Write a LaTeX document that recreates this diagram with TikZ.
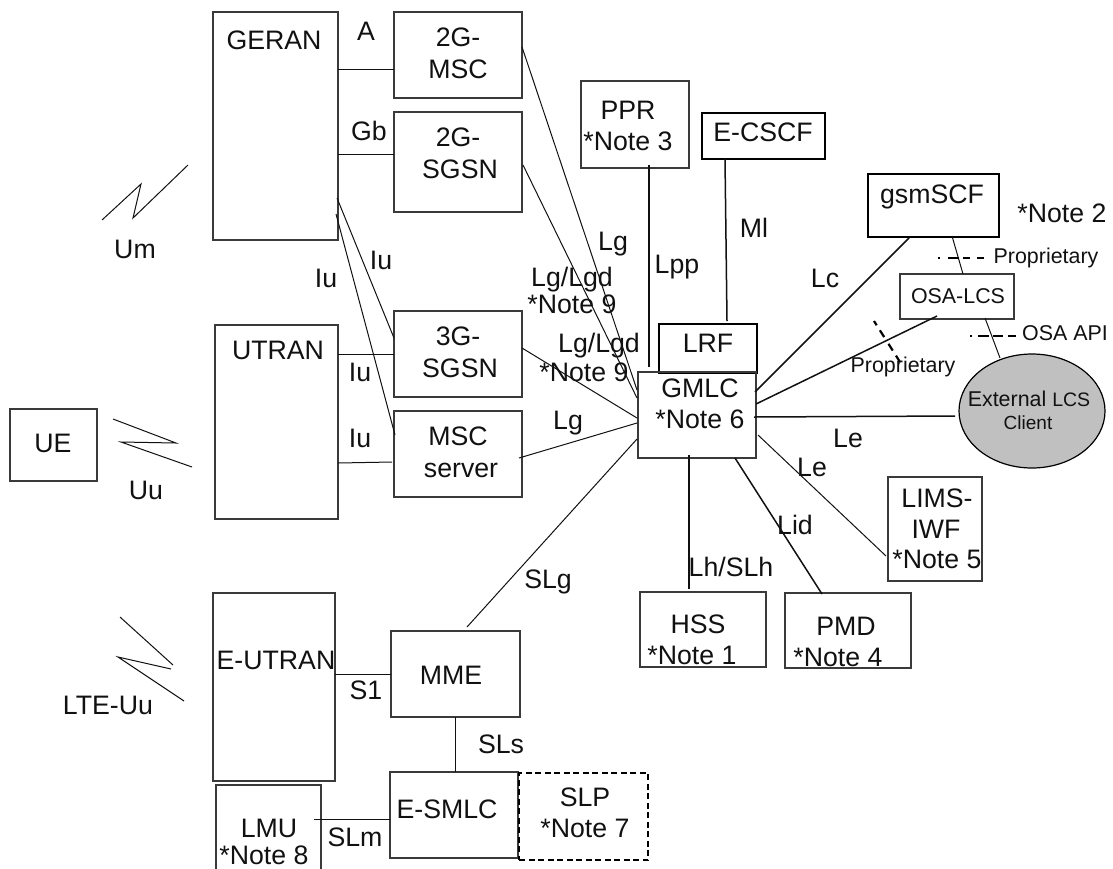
\documentclass[tikz,border=0pt]{standalone}
\usepackage{fontspec}
\setmainfont{Liberation Sans}
\usetikzlibrary{shapes.geometric}
\definecolor{ink}{HTML}{111111}
\definecolor{boxline}{HTML}{3A3A3A}
\definecolor{clientgrey}{HTML}{C0C0C0}
\tikzset{
  big/.style={font=\fontsize{26.7}{30}\selectfont},
  small/.style={font=\fontsize{21.4}{25}\selectfont},
  boxnode/.style={draw=boxline,line width=1.2pt,inner sep=0pt,outer sep=0pt,big,text=ink},
  heavy/.style={draw=black,line width=1.7pt},
  link/.style={draw=ink,line width=1pt},
  firm/.style={draw=ink,line width=1.5pt},
  zap/.style={draw=ink,line width=1pt,line join=miter},
  tick/.style={draw=black,line width=2.2pt},
  lab/.style={inner sep=0pt,outer sep=0pt,anchor=base,text=ink,big},
}
% line of text inside a box: #1 centre x, #2 baseline y (picture coordinates)
\newcommand\tl[3]{\pgfmathsetlengthmacro\dxx{#1-\bxcx}\pgfmathsetlengthmacro\dyy{\bxcy-#2}\hspace*{\dxx}\raisebox{\dyy}[0pt][0pt]{\makebox[0pt]{#3}}\hspace*{-\dxx}}
% box: name, x1,y1,x2,y2, style, contents
\newcommand\bx[7]{%
  \pgfmathsetmacro\bxcx{(#2+#4)/2}\pgfmathsetmacro\bxcy{(#3+#5)/2}%
  \pgfmathsetmacro\bxw{#4-#2}\pgfmathsetmacro\bxh{#5-#3}%
  \expandafter\xdef\csname cx#1\endcsname{\bxcx}\expandafter\xdef\csname cy#1\endcsname{\bxcy}%
  \node[boxnode,#6,minimum width=\bxw pt,minimum height=\bxh pt] (#1) at (\bxcx,\bxcy) {#7};}
% connector from node to node, with end points given in picture coordinates
\newcommand\conn[7][link]{%
  \edef\ax{\csname cx#2\endcsname}\edef\ay{\csname cy#2\endcsname}%
  \edef\bbx{\csname cx#5\endcsname}\edef\bby{\csname cy#5\endcsname}%
  \draw[#1] ([shift={(#3-\ax,#4-\ay)}]#2.center) -- ([shift={(#6-\bbx,#7-\bby)}]#5.center);}
\begin{document}
\begin{tikzpicture}[x=1pt,y=-1pt]
\path[use as bounding box,clip] (0,0) rectangle (1113,868);

% boxes
\bx{geran}{213}{12}{338}{240}{}{\tl{274}{49}{GERAN}}
\bx{msctwo}{394}{12}{522}{98}{}{\tl{458}{46}{2G-}\tl{458}{78}{MSC}}
\bx{sgsntwo}{394}{112}{522}{212}{}{\tl{458}{146}{2G-}\tl{460}{178}{SGSN}}
\bx{ppr}{581}{81}{689}{168}{}{\tl{628}{119}{PPR}\tl{628}{150}{*Note 3}}
\bx{ecscf}{702}{113}{825}{159}{heavy}{\tl{763}{141}{E-CSCF}}
\bx{gsmscf}{868}{174}{999}{237}{heavy}{\tl{932}{203}{gsmSCF}}
\bx{osalcs}{900}{274}{1014}{319}{small}{\tl{958}{303}{OSA-LCS}}
\bx{lrf}{659}{324}{757}{373}{heavy}{\tl{708}{352}{LRF}}
\bx{gmlc}{638}{372}{756}{458}{}{\tl{700}{397}{GMLC}\tl{700}{428}{*Note 6}}
\bx{sgsnthree}{394}{311}{522}{397}{}{\tl{458}{345}{3G-}\tl{460}{377}{SGSN}}
\bx{mscserver}{394}{411}{522}{497}{}{\tl{458}{445}{MSC}\tl{461}{477}{server}}
\bx{utran}{215}{325}{338}{519}{}{\tl{278}{359}{UTRAN}}
\bx{ue}{10}{409}{97}{481}{}{\tl{53}{452}{UE}}
\bx{eutran}{213}{593}{335}{781}{}{\tl{276}{669}{E-UTRAN}}
\bx{mme}{391}{631}{520}{717}{}{\tl{451}{684}{MME}}
\bx{esmlc}{390}{772}{518}{858}{}{\tl{447}{818}{E-SMLC}}
\bx{slp}{519}{773}{648}{860}{draw=black,line width=1.7pt,dash pattern=on 6pt off 3.5pt}{\tl{585}{806}{SLP}\tl{585}{837}{*Note 7}}
\bx{lmu}{216}{785}{321}{890}{}{\tl{269}{837}{LMU}\tl{264}{864}{*Note 8}}
\bx{hss}{640}{592}{766}{667}{}{\tl{698}{633}{HSS}\tl{692}{664}{*Note 1}}
\bx{pmd}{785}{593}{911}{668}{}{\tl{846}{635}{PMD}\tl{838}{666}{*Note 4}}
\bx{lims}{888}{477}{982}{581}{}{\tl{937}{507}{LIMS-}\tl{936}{538}{IWF}\tl{937}{568}{*Note 5}}

% external client
\expandafter\xdef\csname cxext\endcsname{1032}\expandafter\xdef\csname cyext\endcsname{411}
\def\bxcx{1032}\def\bxcy{411}
\node[ellipse,draw=black,line width=1.2pt,fill=clientgrey,inner sep=0pt,outer sep=0pt,minimum width=146pt,minimum height=114pt,text=ink] (ext) at (1032,411)
  {\tl{1029}{406}{\fontsize{21.4}{25}\selectfont External \fontsize{19.5}{23}\selectfont LCS}\tl{1028}{429}{\fontsize{19}{23}\selectfont Client}};

% connectors
\conn{geran}{338}{69}{msctwo}{394}{69}
\conn{geran}{338}{154}{sgsntwo}{394}{154}
\conn{geran}{337}{198}{sgsnthree}{394}{338}
\conn{geran}{336}{214}{mscserver}{395}{435}
\conn{utran}{338}{354}{sgsnthree}{394}{354}
\conn{utran}{338}{463}{mscserver}{392}{462}
\conn{eutran}{335}{674}{mme}{391}{674}
\conn{mme}{455.5}{717}{esmlc}{455.5}{772}
\conn{lmu}{314}{819}{esmlc}{390}{819}
\conn{msctwo}{522}{47}{gmlc}{637}{390}
\conn{sgsntwo}{523}{165}{gmlc}{637}{398}
\conn{sgsnthree}{522}{348}{gmlc}{637}{418}
\conn{mscserver}{519}{458}{gmlc}{637}{423}
\conn{mme}{467}{627}{gmlc}{637}{439}
\conn[firm]{ppr}{649}{165}{gmlc}{649}{367}
\conn[firm]{ecscf}{725}{159}{lrf}{727}{321}
\conn[firm]{gsmscf}{909}{238}{gmlc}{755}{392}
\conn[firm]{osalcs}{937}{316}{gmlc}{756}{404}
\conn[firm]{ext}{955}{416}{gmlc}{754}{417}
\conn{gmlc}{758}{435}{lims}{886}{556}
\conn[firm]{gmlc}{735}{458}{pmd}{822}{594}
\conn[firm]{gmlc}{689}{455}{hss}{689}{589}
\conn{gsmscf}{952}{236}{osalcs}{963}{274}
\conn{osalcs}{985}{318}{ext}{1000}{358}

% radio links
\draw[zap] (188,165) -- (133,218) -- (141,184) -- (102,220);
\draw[zap] (113,419) -- (176,443) -- (121,442) -- (192,467);
\draw[zap] (120,617) -- (173,665);
\draw[zap] (171,669) -- (118,657) -- (184,701);

% reference point ticks
\draw[tick,dash pattern=on 2pt off 8pt on 11pt off 4pt on 7pt off 7pt on 7pt off 20pt] (938,258) -- (985,258);
\draw[tick,dash pattern=on 2pt off 6pt on 11pt off 4pt on 10pt off 5pt on 8pt off 20pt] (970,336) -- (1016,336);
\draw[tick,dash pattern=on 5pt off 6pt on 8pt off 8pt on 8pt off 6pt on 8pt off 20pt] (874,321) -- (900,362);

% labels
\node[lab] (la) at (366,40) {A};
\node[lab] (lgb) at (369,140) {Gb};
\node[lab] (lum) at (135,258) {Um};
\node[lab] (liua) at (381,269) {Iu};
\node[lab] (liub) at (326,287) {Iu};
\node[lab] (liuc) at (360,381) {Iu};
\node[lab] (liud) at (360,447) {Iu};
\node[lab] (luu) at (146,499) {Uu};
\node[lab] (llte) at (108,714) {LTE-Uu};
\node[lab] (lsone) at (366,699) {S1};
\node[lab] (lsls) at (501,753) {SLs};
\node[lab] (lslm) at (355,846) {SLm};
\node[lab] (lslg) at (548,588) {SLg};
\node[lab] (llga) at (613,250) {Lg};
\node[lab] (llpp) at (677,273) {Lpp};
\node[lab] (lml) at (754,237) {Ml};
\node[lab] (llc) at (825,287) {Lc};
\node[lab] (lgda) at (572,286) {Lg/Lgd};
\node[lab] (nnine) at (572,313) {*Note 9};
\node[lab] (lgdb) at (599,352) {Lg/Lgd};
\node[lab] (nninb) at (584,381) {*Note 9};
\node[lab] (llgb) at (568,429) {Lg};
\node[lab] (llea) at (848,447) {Le};
\node[lab] (lleb) at (812,476) {Le};
\node[lab] (llid) at (795,534) {Lid};
\node[lab] (llh) at (731,576) {Lh/SLh};
\node[lab] (ntwo) at (1062,222) {*Note 2};
\node[lab,small] (lpa) at (1046,263) {Proprietary};
\node[lab,small] (lpb) at (903,372) {Proprietary};
\node[lab,small] (losa) at (1065,340) {OSA API};
\end{tikzpicture}
\end{document}
